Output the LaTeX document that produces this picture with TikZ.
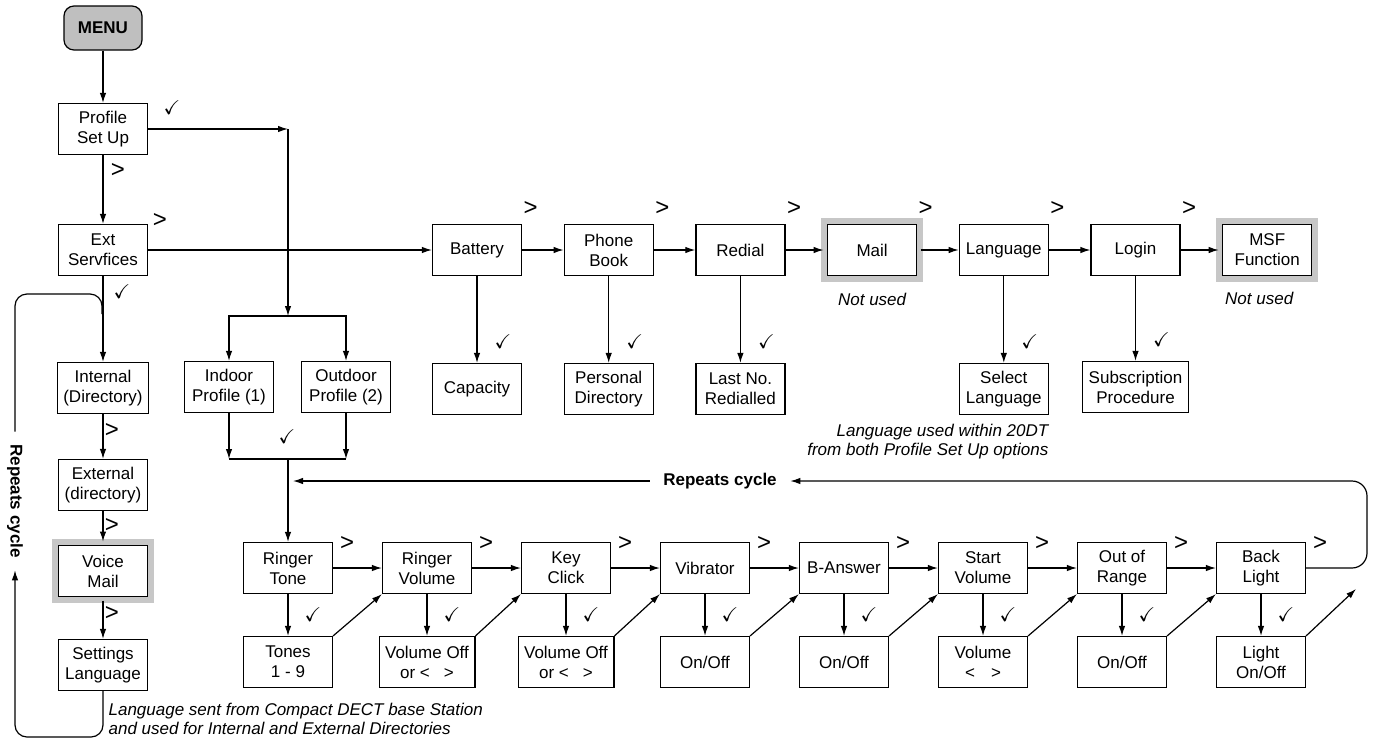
\documentclass[tikz,border=0pt]{standalone}
\usepackage{amssymb}
\usepackage{fontspec}
\setmainfont{Liberation Sans}
\usetikzlibrary{positioning,arrows.meta}
\newcommand{\ckm}{$\checkmark$}

\begin{document}
\begin{tikzpicture}[x=1pt,y=-1pt,->,>={Latex[length=10pt,width=6.5pt]},
    line width=1.2pt,on grid,
    every node/.style={font=\fontsize{17}{20}\selectfont},
    box/.style={draw,rectangle,minimum width=89pt,minimum height=51pt,
      inner xsep=6pt,align=center,fill=white},
    unused/.style={box,outer sep=4pt,preaction={draw=black!22,line width=13pt}},
    menu/.style={draw,rounded corners=10pt,fill=black!25,minimum width=78pt,
      minimum height=44pt,font=\fontsize{17}{20}\selectfont\bfseries},
    note/.style={font=\fontsize{17}{19}\selectfont\itshape,inner sep=0pt},
    rep/.style={font=\fontsize{17}{20}\selectfont\bfseries},
    gt/.style={font=\fontsize{24}{24}\selectfont,inner sep=0pt},
    ck/.style={font=\fontsize{20}{20}\selectfont,inner sep=0pt}]
  \useasboundingbox (0,0) rectangle (1380,742);
  % left column
  \node[menu] (menu) at (103,28) {MENU};
  \node[box] (prof) at (103,129) {Profile\\Set Up};
  \node[box,below=121pt of prof] (ext) {Ext\\Servfices};
  \node[box,below=138pt of ext] (int) {Internal\\(Directory)};
  \node[box,below=97pt of int] (extd) {External\\(directory)};
  \node[unused,below=86pt of extd] (vm) {Voice\\Mail};
  \node[box,below=94pt of vm] (setl) {Settings\\Language};
  % profiles
  \node[box] (ind) at (229,387) {Indoor\\Profile (1)};
  \node[box,right=117pt of ind] (outd) {Outdoor\\Profile (2)};
  % ext services row
  \node[box] (bat) at (477,250) {Battery};
  \node[box,right=131.7pt of bat] (pb) {Phone\\Book};
  \node[box,right=131.7pt of pb] (red) {Redial};
  \node[unused,right=131.7pt of red] (mail) {Mail};
  \node[box,right=131.7pt of mail] (lang) {Language};
  \node[box,right=131.7pt of lang] (login) {Login};
  \node[unused,right=131.7pt of login] (msf) {MSF\\Function};
  \node[box,below=139pt of bat] (cap) {Capacity};
  \node[box,below=139pt of pb] (pdir) {Personal\\Directory};
  \node[box,below=139pt of red] (last) {Last No.\\Redialled};
  \node[box,below=139pt of lang] (sell) {Select\\Language};
  \node[box,below=137pt of login] (subs) {Subscription\\Procedure};
  \node[note,below=49pt of mail] (nu1) {Not used};
  \node[note,below left=48pt and 8pt of msf] (nu2) {Not used};
  % profile row
  \node[box] (rt) at (288,568) {Ringer\\Tone};
  \node[box,right=139pt of rt] (rv) {Ringer\\Volume};
  \node[box,right=139pt of rv] (kc) {Key\\Click};
  \node[box,right=139pt of kc] (vib) {Vibrator};
  \node[box,right=139pt of vib] (ba) {B-Answer};
  \node[box,right=139pt of ba] (sv) {Start\\Volume};
  \node[box,right=139pt of sv] (oor) {Out of\\Range};
  \node[box,right=139pt of oor] (bl) {Back\\Light};
  \node[box,below=94pt of rt] (tones) {Tones\\1 - 9};
  \node[box,below=94pt of rv] (rvs) {Volume Off\\or <\hspace{14pt}>};
  \node[box,below=94pt of kc] (kcs) {Volume Off\\or <\hspace{14pt}>};
  \node[box,below=94pt of vib] (vibs) {On/Off};
  \node[box,below=94pt of ba] (bas) {On/Off};
  \node[box,below=94pt of sv] (svs) {Volume\\<\hspace{16pt}>};
  \node[box,below=94pt of oor] (oors) {On/Off};
  \node[box,below=94pt of bl] (bls) {Light\\On/Off};

  \path (menu) edge (prof)
        (prof) edge (ext)
        (ext) edge (int)
        (int) edge (extd)
        (extd) edge (vm)
        (vm) edge (setl)
        (ext) edge (bat);
  % profile set up branch
  \coordinate (j1) at (288,129);
  \coordinate (j2) at (288,316);
  \coordinate (j3) at (288,459);
  \draw (prof) -- (j1);
  \draw (j1) -- (j2);
  \draw (j2) -| (ind.north);
  \draw (j2) -| (outd.north);
  \draw (ind.south) -- (ind.south |- j3);
  \draw (outd.south) -- (outd.south |- j3);
  \draw[-] (ind.south |- j3) -- (outd.south |- j3);
  \draw (j3) -- (rt);

  \path (bat) edge (pb) (pb) edge (red) (red) edge (mail)
        (mail) edge (lang) (lang) edge (login) (login) edge (msf)
        (bat) edge (cap) (pb) edge (pdir) (red) edge (last)
        (lang) edge (sell) (login) edge (subs);

  \path (rt) edge (rv) (rv) edge (kc) (kc) edge (vib) (vib) edge (ba)
        (ba) edge (sv) (sv) edge (oor) (oor) edge (bl)
        (rt) edge (tones) (rv) edge (rvs) (kc) edge (kcs) (vib) edge (vibs)
        (ba) edge (bas) (sv) edge (svs) (oor) edge (oors) (bl) edge (bls)
        (tones.north east) edge (rv.south west)
        (rvs.north east) edge (kc.south west)
        (kcs.north east) edge (vib.south west)
        (vibs.north east) edge (ba.south west)
        (bas.north east) edge (sv.south west)
        (svs.north east) edge (oor.south west)
        (oors.north east) edge (bl.south west);
  \coordinate (bend) at (1356,589);
  \draw (bls.north east) -- (bend);

  % repeats cycle loops
  \coordinate (rc) at (1367,481);
  \node[rep,inner xsep=13pt] (rep1) at (720,481) {Repeats cycle};
  \draw[rounded corners=15pt] (bl.east) -| (rc) -- (rep1.east);
  \draw (rep1.west) -- ([xshift=5pt]rt.north |- rep1.west);

  \coordinate (lb) at (15,737);
  \coordinate (lt) at (102,294);
  \coordinate (lj) at (102,314);
  \node[rep,rotate=-90,inner xsep=12pt] (rep2) at (15,501) {Repeats cycle};
  \draw[rounded corners=12pt] (setl.south) |- (lb) -- (rep2.east);
  \draw[-,rounded corners=12pt] (rep2.west) |- (lt) -- (lj);

  % marks
  \node[ck] at (172,108) {\ckm};
  \node[gt] at (118,170) {>};
  \node[gt] at (160,220) {>};
  \node[ck] at (122,292) {\ckm};
  \node[gt] at (112,430) {>};
  \node[gt] at (112,525) {>};
  \node[gt] at (112,613) {>};
  \node[ck] at (287,437) {\ckm};
  \foreach \n in {bat,pb,red,lang,login}
    \node[gt] at ([shift={(8.5,-15)}]\n.north east) {>};
  \node[gt] at ([shift={(5,-12)}]mail.north east) {>};
  \foreach \n in {cap,pdir,last,sell,subs}
    \node[ck] at ([shift={(26,-21)}]\n.north) {\ckm};
  \foreach \n in {rt,rv,kc,vib,ba,sv,oor,bl}
    \node[gt] at ([shift={(14,1.5)}]\n.north east) {>};
  \foreach \n in {tones,rvs,kcs,vibs,bas,svs,oors,bls}
    \node[ck] at ([shift={(25,-21)}]\n.north) {\ckm};

  % notes
  \node[note,anchor=north east,align=right] at ([yshift=-8.5pt]sell.south east)
    {Language used within 20DT\\from both Profile Set Up options};
  \node[note,anchor=north west,align=left] at (108,703)
    {Language sent from Compact DECT base Station\\and used for Internal and External Directories};
\end{tikzpicture}
\end{document}
